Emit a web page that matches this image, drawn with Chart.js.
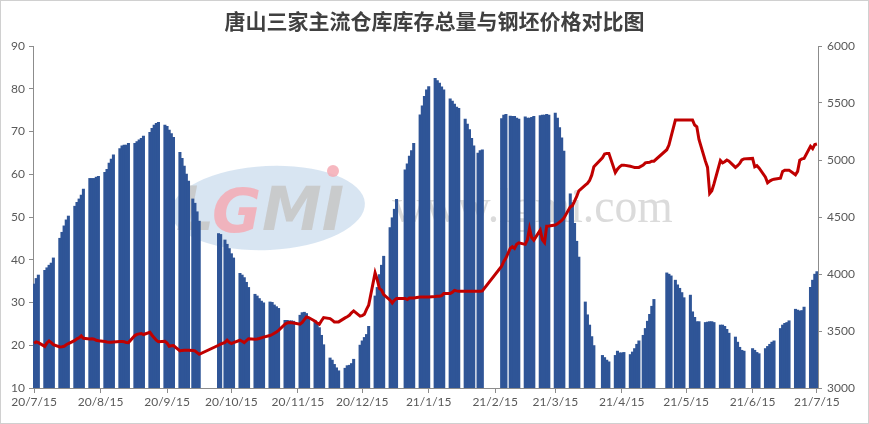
<!DOCTYPE html>
<html><head><meta charset="utf-8">
<script src="https://cdn.jsdelivr.net/npm/chart.js@4/dist/chart.umd.min.js"></script>
<style>html,body{margin:0;padding:0;background:#fff;}canvas{display:block}</style>
</head><body>
<canvas id="c" width="869" height="424"></canvas>
<script>
const chartTitle = '唐山三家主流仓库库存总量与钢坯价格对比图';
const axisStart = '2020-07-15';
const axisEnd = '2021-07-15';

// trading days (one line per week)
const tradeDates = [
'2020-07-15','2020-07-16','2020-07-17',
'2020-07-20','2020-07-21','2020-07-22','2020-07-23','2020-07-24',
'2020-07-27','2020-07-28','2020-07-29','2020-07-30','2020-07-31',
'2020-08-03','2020-08-04','2020-08-05','2020-08-06','2020-08-07',
'2020-08-10','2020-08-11','2020-08-12','2020-08-13','2020-08-14',
'2020-08-17','2020-08-18','2020-08-19','2020-08-20','2020-08-21',
'2020-08-24','2020-08-25','2020-08-26','2020-08-27','2020-08-28',
'2020-08-31','2020-09-01','2020-09-02','2020-09-03','2020-09-04',
'2020-09-07','2020-09-08','2020-09-09','2020-09-10','2020-09-11',
'2020-09-14','2020-09-15','2020-09-16','2020-09-17','2020-09-18',
'2020-09-21','2020-09-22','2020-09-23','2020-09-24','2020-09-25',
'2020-09-27','2020-09-28','2020-09-29','2020-09-30',
'2020-10-09','2020-10-10',
'2020-10-12','2020-10-13','2020-10-14','2020-10-15','2020-10-16',
'2020-10-19','2020-10-20','2020-10-21','2020-10-22','2020-10-23',
'2020-10-26','2020-10-27','2020-10-28','2020-10-29','2020-10-30',
'2020-11-02','2020-11-03','2020-11-04','2020-11-05','2020-11-06',
'2020-11-09','2020-11-10','2020-11-11','2020-11-12','2020-11-13',
'2020-11-16','2020-11-17','2020-11-18','2020-11-19','2020-11-20',
'2020-11-23','2020-11-24','2020-11-25','2020-11-26','2020-11-27',
'2020-11-30','2020-12-01','2020-12-02','2020-12-03','2020-12-04',
'2020-12-07','2020-12-08','2020-12-09','2020-12-10','2020-12-11',
'2020-12-14','2020-12-15','2020-12-16','2020-12-17','2020-12-18',
'2020-12-21','2020-12-22','2020-12-23','2020-12-24','2020-12-25',
'2020-12-28','2020-12-29','2020-12-30','2020-12-31',
'2021-01-04','2021-01-05','2021-01-06','2021-01-07','2021-01-08',
'2021-01-11','2021-01-12','2021-01-13','2021-01-14','2021-01-15',
'2021-01-18','2021-01-19','2021-01-20','2021-01-21','2021-01-22',
'2021-01-25','2021-01-26','2021-01-27','2021-01-28','2021-01-29',
'2021-02-01','2021-02-02','2021-02-03','2021-02-04','2021-02-05',
'2021-02-07','2021-02-08','2021-02-09',
'2021-02-18','2021-02-19','2021-02-20',
'2021-02-22','2021-02-23','2021-02-24','2021-02-25','2021-02-26',
'2021-03-01','2021-03-02','2021-03-03','2021-03-04','2021-03-05',
'2021-03-08','2021-03-09','2021-03-10','2021-03-11','2021-03-12',
'2021-03-15','2021-03-16','2021-03-17','2021-03-18','2021-03-19',
'2021-03-22','2021-03-23','2021-03-24','2021-03-25','2021-03-26',
'2021-03-29','2021-03-30','2021-03-31','2021-04-01','2021-04-02',
'2021-04-06','2021-04-07','2021-04-08','2021-04-09',
'2021-04-12','2021-04-13','2021-04-14','2021-04-15','2021-04-16',
'2021-04-19','2021-04-20','2021-04-21','2021-04-22','2021-04-23',
'2021-04-25','2021-04-26','2021-04-27','2021-04-28','2021-04-29','2021-04-30',
'2021-05-06','2021-05-07','2021-05-08',
'2021-05-10','2021-05-11','2021-05-12','2021-05-13','2021-05-14',
'2021-05-17','2021-05-18','2021-05-19','2021-05-20','2021-05-21',
'2021-05-24','2021-05-25','2021-05-26','2021-05-27','2021-05-28',
'2021-05-31','2021-06-01','2021-06-02','2021-06-03','2021-06-04',
'2021-06-07','2021-06-08','2021-06-09','2021-06-10','2021-06-11',
'2021-06-15','2021-06-16','2021-06-17','2021-06-18',
'2021-06-21','2021-06-22','2021-06-23','2021-06-24','2021-06-25',
'2021-06-28','2021-06-29','2021-06-30','2021-07-01','2021-07-02',
'2021-07-05','2021-07-06','2021-07-07','2021-07-08','2021-07-09',
'2021-07-12','2021-07-13','2021-07-14','2021-07-15'
];

// 库存总量 (left axis)
const stock = [
34.3,35.6,36.4,
37.5,38.1,38.7,39.2,40.4,
45.0,46.4,47.9,49.3,50.2,
52.5,53.4,54.2,55.1,56.5,
59.0,59.0,59.0,59.3,59.5,
60.4,61.1,62.6,63.5,64.5,
66.0,66.6,66.8,66.8,67.2,
67.2,67.6,68.0,68.4,68.9,
69.8,70.7,71.5,71.9,72.1,
71.5,71.2,70.3,69.5,68.6,
65.1,63.7,61.9,60.0,58.4,
54.2,53.2,51.2,49.0,
46.1,45.9,
44.6,43.6,42.6,41.4,40.4,
36.8,36.4,35.8,34.7,33.5,
31.9,31.5,30.9,30.3,29.9,
30.1,30.0,29.4,29.0,28.6,
25.8,25.8,25.7,25.7,25.6,
27.0,27.6,27.7,27.4,26.3,
25.8,25.1,24.1,22.3,20.1,
17.0,16.5,15.5,14.7,14.0,
14.6,15.2,15.3,15.7,16.7,
20.0,21.0,21.8,22.5,24.4,
31.5,33.5,36.5,38.7,40.8,
47.5,49.8,51.8,54.1,
61.0,62.4,64.2,65.5,67.2,
73.9,76.0,78.2,79.7,80.5,
82.4,81.9,81.3,80.4,79.7,
77.6,77.1,76.4,75.7,75.4,
72.9,71.7,70.4,68.4,66.6,
64.9,65.5,65.7,
73.0,73.8,74.0,
73.6,73.5,73.5,73.1,72.9,
73.4,73.1,73.1,73.3,73.5,
73.7,73.8,73.8,74.0,73.8,
74.3,73.1,70.9,68.5,65.4,
55.4,53.3,48.5,44.3,40.6,
30.1,27.1,24.7,22.0,19.9,
17.6,17.1,16.5,16.1,
17.6,18.6,18.2,18.2,18.3,
17.8,18.4,19.2,20.2,21.0,
22.3,23.9,25.6,27.2,29.1,30.7,
36.9,36.6,36.2,
35.2,34.1,33.3,32.3,31.1,
31.7,27.8,26.5,25.5,25.5,
25.3,25.4,25.5,25.5,25.3,
24.7,24.7,24.4,23.7,22.8,
21.9,20.7,19.5,18.8,18.6,
19.2,18.8,18.3,18.0,
19.2,19.7,20.2,20.7,21.0,
23.9,24.7,25.1,25.3,25.7,
28.4,28.2,28.0,28.1,28.9,
33.5,35.2,36.6,37.2
];

// 钢坯价格 (right axis)
const price = [
3392,3405,3398,
3365,3395,3413,3398,3380,
3360,3362,3366,3380,3390,
3418,3432,3440,3457,3436,
3430,3431,3428,3419,3415,
3408,3404,3402,3401,3403,
3408,3408,3405,3400,3398,
3460,3470,3475,3478,3469,
3489,3463,3440,3419,3405,
3410,3395,3366,3370,3372,
3325,3330,3331,3331,3331,
3330,3325,3310,3296,
3375,3385,
3400,3419,3400,3390,3398,
3419,3410,3398,3415,3432,
3428,3430,3434,3440,3446,
3460,3469,3480,3492,3505,
3560,3570,3574,3573,3571,
3560,3575,3600,3623,3618,
3586,3570,3559,3590,3618,
3609,3595,3580,3580,3580,
3615,3625,3638,3660,3676,
3630,3635,3647,3690,3726,
4010,3950,3873,3858,3820,
3770,3745,3770,3785,
3785,3776,3790,3790,3790,
3799,3799,3799,3799,3799,
3802,3805,3805,3810,3828,
3828,3840,3857,3852,3849,
3849,3849,3849,3849,3849,
3849,3849,3852,
4068,4110,4140,
4225,4240,4225,4260,4273,
4260,4300,4399,4320,4297,
4385,4300,4276,4420,4422,
4430,4440,4455,4470,4490,
4589,4600,4640,4680,4730,
4780,4795,4820,4867,4940,
5020,5052,5058,5058,
4890,4920,4940,4955,4955,
4945,4940,4935,4935,4935,
4955,4975,4978,4980,4990,4990,
5090,5131,5204,
5350,5350,5350,5350,5350,
5350,5350,5307,5292,5180,
4990,4935,4707,4730,4790,
4995,4975,4985,5000,4990,
4935,4950,4970,5000,5010,
5014,4940,4950,4930,
4850,4800,4815,4825,4832,
4841,4900,4911,4911,4911,
4870,4900,4999,5010,5014,
5120,5100,5135,5140
];

// calendar-day category axis from axisStart to axisEnd
const dayLabels = [];
for (let t = Date.parse(axisStart + 'T00:00:00Z'); t <= Date.parse(axisEnd + 'T00:00:00Z'); t += 86400000) {
  dayLabels.push(new Date(t).toISOString().slice(0, 10));
}
const fmtTick = s => s.slice(2, 4) + '/' + (+s.slice(5, 7)) + '/' + (+s.slice(8, 10));

const tickFont = { family: 'Lato, "Noto Sans", sans-serif', size: 12 };
const tickColor = '#595959';
const axisColor = '#8c8c8c';

const frame = {
  id: 'frame',
  beforeDraw(chart) {
    const ctx = chart.ctx;
    ctx.save();
    ctx.fillStyle = '#fff';
    ctx.fillRect(0, 0, chart.width, chart.height);
    ctx.strokeStyle = '#d0d0d0';
    ctx.lineWidth = 1;
    ctx.strokeRect(0.5, 0.5, chart.width - 1, chart.height - 1);
    ctx.restore();
  },
  beforeDatasetsDraw(chart) {
    const ctx = chart.ctx;
    ctx.save();
    // faint LGMI logo watermark
    ctx.fillStyle = 'rgba(190,212,234,0.6)';
    ctx.beginPath();
    ctx.ellipse(268, 208, 97, 42, -0.05, 0, Math.PI * 2);
    ctx.fill();
    ctx.font = 'italic bold 60px "DejaVu Sans", sans-serif';
    ctx.textBaseline = 'alphabetic';
    ctx.fillStyle = 'rgba(200,200,200,0.9)';
    ctx.fillText('L', 176, 230);
    ctx.fillStyle = 'rgba(244,170,180,0.85)';
    ctx.fillText('G', 212, 232);
    ctx.fillStyle = 'rgba(200,200,200,0.9)';
    ctx.fillText('MI', 262, 230);
    ctx.fillStyle = 'rgba(244,170,180,0.85)';
    ctx.beginPath();
    ctx.arc(333, 171, 6, 0, Math.PI * 2);
    ctx.fill();
    // www.lgmi.com
    ctx.fillStyle = 'rgba(215,215,215,0.9)';
    ctx.font = '48px "Liberation Serif", serif';
    ctx.translate(392, 222);
    ctx.scale(0.95, 1);
    ctx.fillText('www.lgmi.com', 0, 0);
    ctx.restore();
  }
};

new Chart(document.getElementById('c'), {
  data: {
    labels: dayLabels,
    datasets: [
      {
        type: 'line',
        label: '钢坯价格',
        data: tradeDates.map((d, i) => ({ x: d, y: price[i] })),
        yAxisID: 'y1',
        borderColor: '#C00000',
        borderWidth: 3,
        pointRadius: 0,
        tension: 0,
        spanGaps: true,
        order: 1
      },
      {
        type: 'bar',
        label: '库存总量',
        data: tradeDates.map((d, i) => ({ x: d, y: stock[i] })),
        yAxisID: 'y',
        backgroundColor: '#2F5597',
        borderWidth: 0,
        barPercentage: 1,
        categoryPercentage: 1,
        inflateAmount: 0.45,
        order: 2
      }
    ]
  },
  options: {
    responsive: false,
    animation: false,
    devicePixelRatio: 1,
    layout: { padding: { left: 0, right: 0, top: 0, bottom: 0 } },
    plugins: {
      legend: { display: false },
      tooltip: { enabled: false },
      title: {
        display: true,
        text: chartTitle,
        color: '#404040',
        font: { family: '"Noto Sans CJK SC", sans-serif', size: 21, weight: 'bold' },
        padding: { top: 8, bottom: 12.8 }
      }
    },
    scales: {
      x: {
        type: 'category',
        offset: true,
        afterBuildTicks: s => { s.ticks = s.ticks.filter(t => dayLabels[t.value].endsWith('-15')); },
        afterFit: s => { s.height = 36; },
        ticks: {
          autoSkip: false, maxRotation: 0, minRotation: 0,
          font: tickFont, color: tickColor, padding: 2,
          callback: v => fmtTick(dayLabels[v])
        },
        grid: { display: true, drawOnChartArea: false, drawTicks: true, tickLength: 5, offset: false, color: axisColor },
        border: { display: true, color: axisColor }
      },
      y: {
        position: 'left',
        min: 10, max: 90,
        afterFit: s => { s.width = 33; },
        ticks: { stepSize: 10, font: tickFont, color: tickColor, padding: 4, callback: v => String(v) },
        grid: { drawOnChartArea: false, drawTicks: true, tickLength: 4, color: axisColor },
        border: { display: true, color: axisColor }
      },
      y1: {
        position: 'right',
        min: 3000, max: 6000,
        afterFit: s => { s.width = 51; },
        ticks: { stepSize: 500, font: tickFont, color: tickColor, padding: 5, callback: v => String(v) },
        grid: { drawOnChartArea: false, drawTicks: true, tickLength: 4, color: axisColor },
        border: { display: true, color: axisColor }
      }
    }
  },
  plugins: [frame]
});
</script>
</body></html>
